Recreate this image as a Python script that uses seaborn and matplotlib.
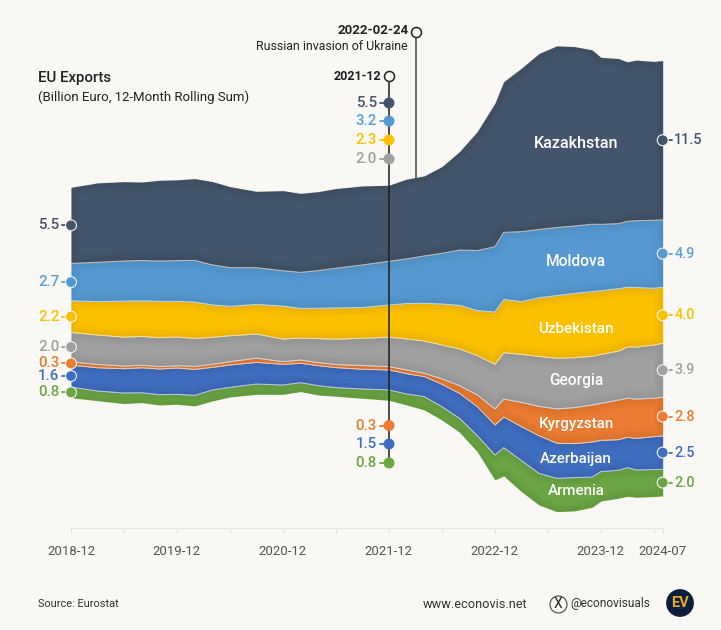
import matplotlib
matplotlib.use("Agg")
import matplotlib.pyplot as plt
import numpy as np
import pandas as pd
import seaborn as sns

# months since 2018-12
MONTHS = [0, 3, 6, 8, 10, 12, 14, 16, 18, 21, 24, 26, 28, 30, 33, 36, 38, 40, 42, 44,
          46, 48, 49, 51, 53, 55, 57, 59, 60, 62, 63, 64, 66, 67]

# lower edge of the stream, billion euro above its lowest point
BASELINE = [8.38, 8.16, 7.95, 8.02, 7.85, 7.90, 7.78, 8.14, 8.43, 8.62, 8.62, 8.82, 8.57, 8.48, 8.33, 8.19, 7.85, 7.49,
            6.76, 5.87, 4.47, 2.42, 2.71, 1.57, 0.60, 0.12, 0.17, 0.43, 0.89, 1.09, 1.23, 1.16, 1.21, 1.26]

ARMENIA = [0.77, 0.70, 0.77, 0.72, 0.75, 0.72, 0.77, 0.80, 0.70, 0.75, 0.68, 0.65, 0.68, 0.63, 0.68, 0.75, 0.80, 0.97,
           0.97, 1.01, 1.16, 1.81, 2.05, 2.25, 2.29, 2.42, 2.42, 2.20, 2.13, 2.03, 2.08, 1.98, 1.96, 1.93]
AZERBAIJAN = [1.59, 1.69, 1.76, 1.81, 1.86, 1.91, 1.88, 1.64, 1.62, 1.57, 1.50, 1.40, 1.45, 1.45, 1.43, 1.45, 1.47, 1.45,
              1.62, 1.81, 2.10, 2.17, 2.22, 2.46, 2.73, 2.54, 2.46, 2.54, 2.27, 2.22, 2.20, 2.29, 2.39, 2.42]
KYRGYZSTAN = [0.24, 0.24, 0.19, 0.19, 0.17, 0.17, 0.22, 0.22, 0.24, 0.31, 0.19, 0.24, 0.22, 0.22, 0.27, 0.24, 0.27, 0.24,
              0.39, 0.56, 0.85, 1.16, 1.30, 1.76, 2.13, 2.49, 2.61, 2.68, 2.68, 2.87, 2.83, 2.85, 2.78, 2.80]
GEORGIA = [2.13, 2.13, 2.10, 2.08, 2.10, 2.08, 2.03, 1.96, 1.88, 1.74, 1.64, 1.59, 1.74, 1.84, 1.98, 2.13, 2.25, 2.34,
           2.46, 2.66, 2.85, 3.24, 3.36, 3.48, 3.62, 3.67, 3.62, 3.53, 3.55, 3.55, 3.72, 3.77, 3.86, 3.91]
UZBEKISTAN = [2.29, 2.42, 2.61, 2.58, 2.63, 2.58, 2.63, 2.34, 2.13, 2.15, 2.39, 2.15, 2.20, 2.27, 2.22, 2.34, 2.56, 2.73,
              2.97, 3.16, 3.26, 3.79, 3.86, 3.82, 4.25, 4.54, 4.66, 4.69, 4.61, 4.52, 4.32, 4.32, 4.11, 4.06]
MOLDOVA = [2.71, 2.85, 2.90, 2.92, 2.92, 2.95, 3.02, 2.90, 2.80, 2.66, 2.56, 2.61, 2.73, 2.87, 3.09, 3.16, 3.24, 3.43,
           3.67, 4.01, 4.35, 4.73, 4.86, 5.07, 4.95, 4.93, 4.88, 4.88, 4.81, 4.71, 4.78, 4.83, 4.93, 4.88]
KAZAKHSTAN = [5.51, 5.75, 5.75, 5.68, 5.85, 5.85, 5.92, 6.04, 5.87, 5.53, 5.80, 5.72, 5.72, 5.77, 5.72, 5.51, 5.77, 5.80,
              6.28, 7.13, 8.62, 10.39, 10.92, 11.84, 12.75, 13.16, 13.00, 12.63, 12.10, 11.96, 11.55, 11.64, 11.50, 11.55]

NAMES = ["Armenia", "Azerbaijan", "Kyrgyzstan", "Georgia", "Uzbekistan", "Moldova", "Kazakhstan"]
COLORS = ["#6BA644", "#406EBF", "#EA7B30", "#A0A0A0", "#FBC000", "#5598D2", "#44546A"]
TEXT_COLORS = ["#6BA644", "#406EBF", "#EA7B30", "#A0A0A0", "#FBC000", "#5B9FDB", "#44546A"]

START_LABELS = ["0.8", "1.6", "0.3", "2.0", "2.2", "2.7", "5.5"]
END_LABELS = ["2.0", "2.5", "2.8", "3.9", "4.0", "4.9", "11.5"]
DEC21_TOP = ["5.5", "3.2", "2.3", "2.0"]
DEC21_BOTTOM = ["0.3", "1.5", "0.8"]

TICKS = [0, 6, 12, 18, 24, 30, 36, 42, 48, 54, 60, 66, 67]
TICK_LABELS = ["2018-12", "", "2019-12", "", "2020-12", "", "2021-12", "", "2022-12", "", "2023-12", "", "2024-07"]

BG = "#F9F8F4"
W, H = 721, 630
PX_PER_BN = 13.8

sns.set_theme(style="white", rc={"figure.facecolor": BG, "axes.facecolor": "none", "savefig.facecolor": BG})
plt.rcParams["font.family"] = ["Roboto", "DejaVu Sans"]

fig = plt.figure(figsize=(W / 100, H / 100), dpi=100)
# chart axes: x from 2018-12 to 2024-07, floor of the axes on the axis line
ax = fig.add_axes([71 / W, (H - 528.3) / H, 591.7 / W, 528.3 / H])
ax.set_xlim(0, 67)
ax.set_ylim(-15 / PX_PER_BN, 513.3 / PX_PER_BN)

series = [ARMENIA, AZERBAIJAN, KYRGYZSTAN, GEORGIA, UZBEKISTAN, MOLDOVA, KAZAKHSTAN]
edges = np.vstack([BASELINE, np.array(series)]).cumsum(axis=0)
df = pd.DataFrame(edges.T, columns=["base"] + NAMES)
df["month"] = MONTHS

for i, (name, color) in enumerate(zip(NAMES, COLORS)):
    fill = ax.fill_between(MONTHS, edges[i], edges[i + 1], color=color, lw=0, zorder=2)
    # soft darker rim inside every band
    for lw in (12, 8, 4):
        rim = ax.fill_between(MONTHS, edges[i], edges[i + 1], facecolor="none", edgecolor="black",
                              alpha=0.018, lw=lw, zorder=2.1)
        rim.set_clip_path(fill.get_paths()[0], fill.get_transform())

# thin light lines between the bands
for name in NAMES[:-1]:
    sns.lineplot(data=df, x="month", y=name, ax=ax, color="#F2F2F2", alpha=0.7, lw=0.7, zorder=3)

# dots at both ends of every band
mids = (edges[:-1] + edges[1:]) / 2
ends = pd.DataFrame({"month": [MONTHS[0]] * 7 + [MONTHS[-1]] * 7,
                     "mid": list(mids[:, 0]) + list(mids[:, -1]),
                     "name": NAMES + NAMES})
sns.scatterplot(data=ends, x="month", y="mid", hue="name", palette=dict(zip(NAMES, COLORS)), s=62,
                edgecolor="#F4F4F4", linewidth=0.8, legend=False, clip_on=False, zorder=6, ax=ax)
for i in range(7):
    ax.plot([-1.0, 0], [mids[i, 0]] * 2, color=TEXT_COLORS[i], lw=1.3, clip_on=False, zorder=5)
    ax.plot([67, 68.05], [mids[i, -1]] * 2, color=TEXT_COLORS[i], lw=1.3, clip_on=False, zorder=5)
    ax.annotate(START_LABELS[i], (0, mids[i, 0]), xytext=(-8.5, 0), textcoords="offset points", ha="right",
                va="center", color=TEXT_COLORS[i], fontsize=10.8, fontweight="medium")
    ax.annotate(END_LABELS[i], (67, mids[i, -1]), xytext=(8.3, 0), textcoords="offset points", ha="left",
                va="center", color=TEXT_COLORS[i], fontsize=10.4, fontweight="medium")

ax.set_xticks(TICKS)
ax.set_xticklabels(TICK_LABELS, fontsize=9.5, color="#555555")
ax.tick_params(axis="x", length=3.5, width=0.7, color="#E0E0DC", pad=8.5, bottom=True)
ax.set_yticks([])
ax.set_xlabel("")
ax.set_ylabel("")
for side in ("top", "left", "right"):
    ax.spines[side].set_visible(False)
ax.spines["bottom"].set_color("#E4E4E0")
ax.spines["bottom"].set_linewidth(0.8)

# overlay in pixel coordinates for notes, header and footer
ov = fig.add_axes([0, 0, 1, 1])
ov.set_xlim(0, W)
ov.set_ylim(H, 0)
ov.axis("off")
ov.patch.set_alpha(0)

ov.text(38.5, 78, "EU Exports", fontsize=10.8, fontweight="medium", color="#222222", va="center")
ov.text(38.5, 97, "(Billion Euro, 12-Month Rolling Sum)", fontsize=9.55, color="#222222", va="center")

# invasion note
ov.plot([416, 416], [36, 178], color="#444444", lw=1.1, zorder=4)
ov.scatter([416], [31.5], s=52, facecolor=BG, edgecolor="#222222", linewidth=1.1, zorder=5)
ov.text(409, 31, "2022-02-24", fontsize=9.5, fontweight="bold", color="#222222", ha="right", va="center")
ov.text(408, 47, "Russian invasion of Ukraine", fontsize=8.9, color="#222222", ha="right", va="center")

# 2021-12 column
ov.plot([389, 389], [81, 463], color="#1E1E1E", lw=1.1, zorder=4)
ov.scatter([389], [76], s=52, facecolor=BG, edgecolor="#222222", linewidth=1.1, zorder=5)
ov.text(381, 76, "2021-12", fontsize=9.0, fontweight="bold", color="#222222", ha="right", va="center")
column = zip(DEC21_TOP + DEC21_BOTTOM,
             [103, 121, 140, 159, 425.5, 444, 463],
             [6, 5, 4, 3, 2, 1, 0])
for label, y, idx in column:
    ov.plot([380, 389], [y, y], color=TEXT_COLORS[idx], lw=1.3, zorder=4)
    ov.scatter([389], [y], s=62, color=COLORS[idx], edgecolor="none", zorder=5)
    ov.text(377, y, label, fontsize=10.8, fontweight="medium", color=TEXT_COLORS[idx], ha="right", va="center")

# band names, Kazakhstan a little larger
for name, y, size in zip(NAMES, [491, 459, 424, 381, 329, 262, 144], [10.9, 10.9, 10.9, 11.2, 11.0, 11.2, 11.6]):
    ov.text(576, y, name, fontsize=size, fontweight="medium", color="white", ha="center", va="center", zorder=6)

# footer
ov.text(38.5, 604, "Source: Eurostat", fontsize=7.9, color="#333333", va="center")
ov.text(423, 604, "www.econovis.net", fontsize=9.2, color="#333333", va="center")
ov.scatter([558], [604], s=150, facecolor=BG, edgecolor="#444444", linewidth=0.8)
ov.text(558, 604, "X", fontsize=10, color="#222222", ha="center", va="center")
ov.text(570, 604, "@econovisuals", fontsize=8.6, color="#333333", va="center")
ov.scatter([680], [603], s=400, color="#0B1E3C", edgecolor="none")
ov.text(680, 603, "EV", fontsize=10.5, fontweight="bold", color="#E8A91C", ha="center", va="center")

fig.savefig("out.png", dpi=100)
